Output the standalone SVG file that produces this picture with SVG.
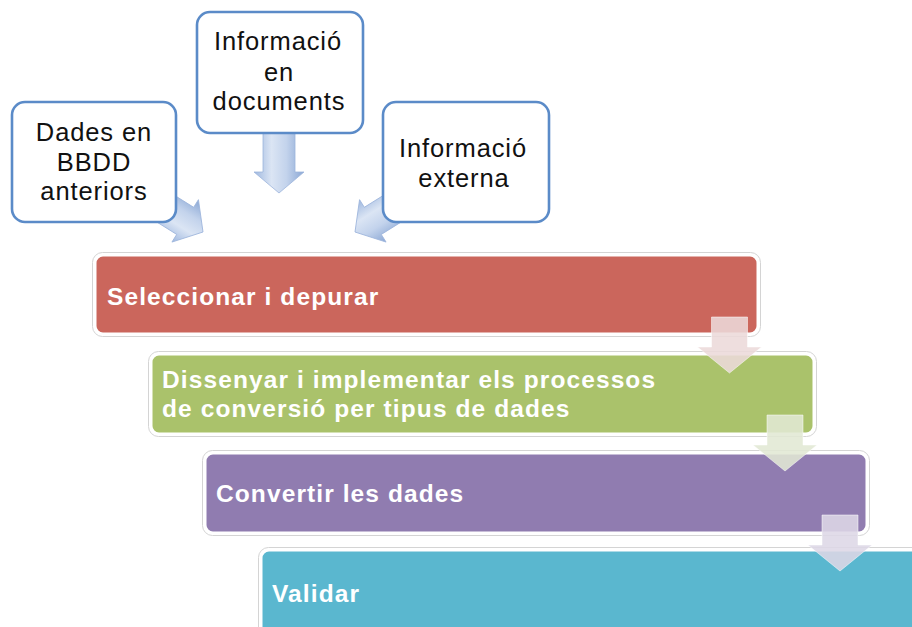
<svg xmlns="http://www.w3.org/2000/svg" width="912" height="627" viewBox="0 0 912 627">
  <defs>
    <linearGradient id="blueArrow" x1="0" y1="0" x2="1" y2="0">
      <stop offset="0" stop-color="#9fb8df"/>
      <stop offset="0.35" stop-color="#dbe5f4"/>
      <stop offset="0.65" stop-color="#c3d3ec"/>
      <stop offset="1" stop-color="#8aa7d4"/>
    </linearGradient>
    <path id="convArrow" d="M-16,-90 L16,-90 L16,-21 L25,-21 L0,0 L-25,-21 L-16,-21 Z"/>
    <path id="downArrow" d="M-18,0 L18,0 L18,30 L32,30 L0,56 L-32,30 L-18,30 Z"/>
  </defs>
  <style>
    .src rect { fill: #ffffff; stroke: #5b8bc8; stroke-width: 2.6; }
    .src text { font-family: "Liberation Sans", Arial, sans-serif; font-size: 25.5px; fill: #111111; text-anchor: middle; letter-spacing: 0.9px; }
    .step .halo { fill: none; stroke: #d4d4d4; stroke-width: 1; }
    .step .body { stroke: #ffffff; stroke-width: 3; }
    .step text { font-family: "Liberation Sans", Arial, sans-serif; font-size: 24.5px; font-weight: bold; fill: #ffffff; letter-spacing: 1.1px; }
    .conv { fill: url(#blueArrow); stroke: #9db5dc; stroke-width: 0.8; }
    .down { stroke: #ffffff; stroke-opacity: 0.5; stroke-width: 1; }
  </style>

  <g id="step-seleccionar" class="step">
    <rect class="halo" x="92.5" y="252.5" width="668" height="84" rx="10"/>
    <rect class="body" x="95" y="255" width="663" height="79" rx="8" fill="#cb665c"/>
    <text x="107" y="305">Seleccionar i depurar</text>
  </g>
  <g id="step-dissenyar" class="step">
    <rect class="halo" x="148.5" y="351.5" width="668" height="85" rx="10"/>
    <rect class="body" x="151" y="354" width="663" height="80" rx="8" fill="#aac26b"/>
    <text x="162" y="388">Dissenyar i implementar els processos</text>
    <text x="162" y="417">de conversió per tipus de dades</text>
  </g>
  <g id="step-convertir" class="step">
    <rect class="halo" x="202.5" y="450.5" width="667" height="85" rx="10"/>
    <rect class="body" x="205" y="453" width="662" height="80" rx="8" fill="#907cb0"/>
    <text x="216" y="502">Convertir les dades</text>
  </g>
  <g id="step-validar" class="step">
    <rect class="halo" x="258.5" y="547.5" width="700" height="110" rx="10"/>
    <rect class="body" x="261" y="550" width="700" height="110" rx="8" fill="#5ab7cf"/>
    <text x="272" y="602">Validar</text>
  </g>

  <g id="connectors">
    <use href="#convArrow" class="conv" transform="translate(279,193)"/>
    <use href="#convArrow" class="conv" transform="translate(203,232) rotate(-58)"/>
    <use href="#convArrow" class="conv" transform="translate(355,232) rotate(58)"/>
    <use href="#downArrow" class="down" fill="#ecd9d9" fill-opacity="0.88" transform="translate(729.5,317)"/>
    <use href="#downArrow" class="down" fill="#e1e8d4" fill-opacity="0.88" transform="translate(785,415)"/>
    <use href="#downArrow" class="down" fill="#ddd7e6" fill-opacity="0.88" transform="translate(840,515)"/>
  </g>

  <g id="src-bbdd" class="src">
    <rect x="12" y="102" width="164" height="120" rx="13"/>
    <text x="94" y="141">Dades en</text>
    <text x="94" y="171">BBDD</text>
    <text x="94" y="200">anteriors</text>
  </g>
  <g id="src-documents" class="src">
    <rect x="197" y="12" width="166" height="121" rx="13"/>
    <text x="278" y="50">Informació</text>
    <text x="279" y="81">en</text>
    <text x="279" y="110">documents</text>
  </g>
  <g id="src-externa" class="src">
    <rect x="383" y="102" width="166" height="120" rx="13"/>
    <text x="463" y="157">Informació</text>
    <text x="464" y="187">externa</text>
  </g>
</svg>
